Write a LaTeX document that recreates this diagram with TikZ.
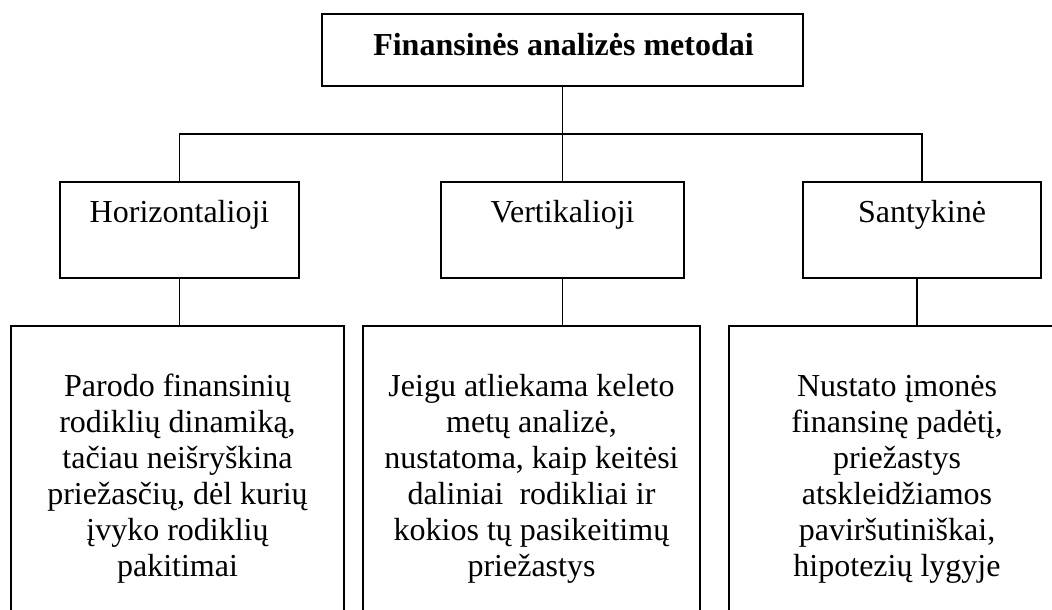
\documentclass[tikz,border=0pt]{standalone}
\usepackage{fontspec}
\setmainfont{Liberation Serif}

\begin{document}
\begin{tikzpicture}[x=0.5pt,y=-0.5pt,line width=0.8pt,
  font=\fontsize{16pt}{18pt}\selectfont,
  box/.style={draw,rectangle,inner sep=0pt},
  txt/.style={anchor=base,align=center,inner sep=0pt}]

\useasboundingbox (0,0) rectangle (1052,609);
\clip (0,0) rectangle (1052,609);

\node[box,minimum width=240.5pt,minimum height=36pt] (fam) at (562.5,50) {};
\node[txt,font=\fontsize{16pt}{18pt}\selectfont\bfseries] at (563.5,56) {Finansinės analizės metodai};

\node[box,minimum width=119.5pt,minimum height=48pt] (hor) at (179.5,230) {};
\node[box,minimum width=121.5pt,minimum height=48pt] (ver) at (562.5,230) {};
\node[box,minimum width=119pt,minimum height=48pt] (san) at (922,230) {};
\node[txt] at ([yshift=-20.5pt]hor.north) {Horizontalioji};
\node[txt] at ([yshift=-20.5pt]ver.north) {Vertikalioji};
\node[txt] at ([yshift=-20.5pt]san.north) {Santykinė};

\node[box,minimum width=166.5pt,minimum height=167pt] (par) at (177.5,493) {};
\node[box,minimum width=168.5pt,minimum height=167pt] (jei) at (531.5,493) {};
\node[box,minimum width=168pt,minimum height=167pt] (nus) at (897,493) {};
% base of a six line text is its last line
\node[txt] at ([yshift=-125.5pt]par.north) {Parodo finansinių\\rodiklių dinamiką,\\tačiau neišryškina\\priežasčių, dėl kurių\\įvyko rodiklių\\pakitimai};
\node[txt] at ([yshift=-125.5pt]jei.north) {Jeigu atliekama keleto\\metų analizė,\\nustatoma, kaip keitėsi\\daliniai\ \ rodikliai ir\\kokios tų pasikeitimų\\priežastys};
\node[txt] at ([yshift=-125.5pt]nus.north) {Nustato įmonės\\finansinę padėtį,\\priežastys\\atskleidžiamos\\paviršutiniškai,\\hipotezių lygyje};

\coordinate (bus) at (562.5,134);
\draw (fam.south) -- (ver.north);
\draw (hor.north) |- (bus) -| (san.north);
\draw (hor.south) -- (hor.south |- par.north);
\draw (ver.south) -- (ver.south |- jei.north);
\draw ([xshift=-2.5pt]san.south) -- ([xshift=-2.5pt]san.south |- nus.north);
\end{tikzpicture}
\end{document}
